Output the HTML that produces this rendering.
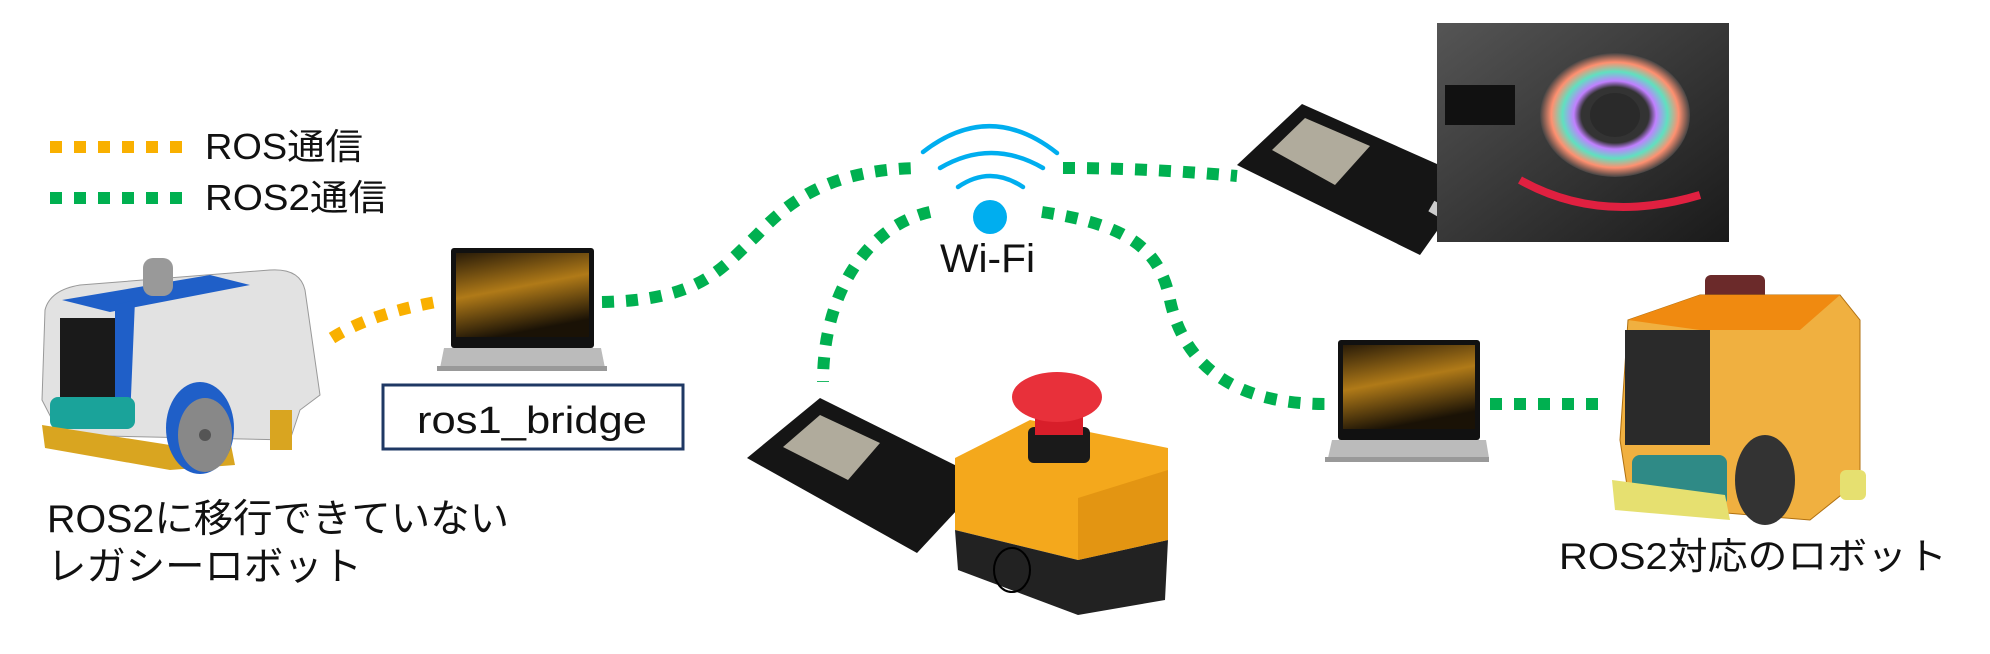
<!DOCTYPE html>
<html><head><meta charset="utf-8"><style>
html,body{margin:0;padding:0;background:#fff;}
svg{display:block;}
text{font-family:"Liberation Sans","Noto Sans CJK JP",sans-serif;fill:#111;}
</style></head><body>
<svg width="1990" height="654" viewBox="0 0 1990 654" xmlns="http://www.w3.org/2000/svg">
<defs>
<linearGradient id="scr" x1="0" y1="0" x2="0.3" y2="1"><stop offset="0" stop-color="#2a1c08"/><stop offset="0.5" stop-color="#b07a18"/><stop offset="1" stop-color="#1a1206"/></linearGradient>
<linearGradient id="led" x1="0" y1="0" x2="1" y2="1"><stop offset="0" stop-color="#555"/><stop offset="1" stop-color="#1a1a1a"/></linearGradient>
<radialGradient id="ring"><stop offset="0.45" stop-color="#333"/><stop offset="0.55" stop-color="#c080ff"/><stop offset="0.7" stop-color="#60e0c0"/><stop offset="0.85" stop-color="#ff9070"/><stop offset="1" stop-color="#444"/></radialGradient>
</defs>

<!-- legend -->
<line x1="50" y1="147" x2="186" y2="147" stroke="#f9b000" stroke-width="12" stroke-dasharray="12 12"/>
<line x1="50" y1="198" x2="186" y2="198" stroke="#00b050" stroke-width="12" stroke-dasharray="12 12"/>
<text x="205" y="159" font-size="36" textLength="158" lengthAdjust="spacingAndGlyphs">ROS通信</text>
<text x="205" y="210" font-size="36" textLength="182" lengthAdjust="spacingAndGlyphs">ROS2通信</text>

<!-- connectors -->
<g fill="none" stroke-width="12" stroke-dasharray="12 12">
<path d="M332,338 Q370,314 436,302" stroke="#f9b000"/>
<path d="M602,302 C700,300 720,270 757,235 C790,200 830,170 917,168" stroke="#00b050"/>
<path d="M930,212 C870,225 823,290 823,382" stroke="#00b050"/>
<path d="M1063,168 Q1150,168 1237,176" stroke="#00b050"/>
<path d="M1042,212 C1130,225 1160,250 1170,300 C1185,370 1240,404 1325,404" stroke="#00b050"/>
<path d="M1490,404 L1598,404" stroke="#00b050"/>
</g>

<!-- wifi -->
<g fill="none" stroke="#00aeef" stroke-width="4.5" stroke-linecap="round">
<path d="M923,152 Q990,100 1057,153"/>
<path d="M940,168 Q991,138 1043,168"/>
<path d="M958,187 Q990,165 1023,187"/>
</g>
<circle cx="990" cy="217" r="17" fill="#00aeef"/>
<text x="940" y="272" font-size="40" textLength="95" lengthAdjust="spacingAndGlyphs">Wi-Fi</text>

<!-- laptop 1 -->
<rect x="451" y="248" width="143" height="100" rx="3" fill="#111"/>
<rect x="456" y="253" width="133" height="84" fill="url(#scr)"/>
<path d="M444,348 L601,348 L605,368 L440,368 Z" fill="#bbb"/>
<rect x="437" y="366" width="170" height="5" fill="#999"/>

<!-- ros1_bridge -->
<rect x="383" y="385" width="300" height="64" fill="#fff" stroke="#1f3864" stroke-width="3"/>
<text x="417" y="433" font-size="38" textLength="230" lengthAdjust="spacingAndGlyphs">ros1_bridge</text>

<!-- left robot -->
<g>
<path d="M45,310 Q50,290 80,285 L270,270 Q300,268 305,290 L320,395 L300,410 L290,440 L60,435 L42,400 Z" fill="#e2e2e2" stroke="#999"/>
<path d="M62,300 L210,275 L250,285 L110,312 Z" fill="#1f5fc8"/>
<rect x="60" y="318" width="55" height="90" fill="#1a1a1a"/>
<path d="M115,305 L135,300 L130,420 L115,420 Z" fill="#1f5fc8"/>
<rect x="143" y="258" width="30" height="38" rx="10" fill="#999"/>
<rect x="50" y="397" width="85" height="32" rx="8" fill="#1aa39a"/>
<path d="M42,425 L170,445 L230,440 L235,465 L170,470 L45,448 Z" fill="#d9a520"/>
<ellipse cx="200" cy="428" rx="34" ry="46" fill="#1f5fc8"/>
<ellipse cx="205" cy="435" rx="27" ry="37" fill="#888"/>
<circle cx="205" cy="435" r="6" fill="#555"/>
<rect x="270" y="410" width="22" height="40" fill="#d9a520"/>
</g>
<text x="47" y="532" font-size="39" textLength="462" lengthAdjust="spacingAndGlyphs">ROS2に移行できていない</text>
<text x="47" y="580" font-size="39" textLength="315" lengthAdjust="spacingAndGlyphs">レガシーロボット</text>

<!-- ESP32 top -->
<g>
<path d="M1237,165 L1302,104 L1473,180 L1420,255 Z" fill="#151515"/>
<path d="M1272,150 L1305,118 L1370,146 L1335,185 Z" fill="#b0ab9c"/>
<rect x="1430" y="205" width="20" height="12" fill="#ccc" transform="rotate(30 1440 211)"/>
</g>
<!-- LED photo -->
<rect x="1437" y="23" width="292" height="219" fill="url(#led)"/>
<ellipse cx="1615" cy="115" rx="75" ry="62" fill="url(#ring)"/>
<ellipse cx="1615" cy="115" rx="25" ry="22" fill="#2a2a2a"/>
<path d="M1520,180 Q1600,225 1700,195" fill="none" stroke="#e02040" stroke-width="8"/>
<rect x="1445" y="85" width="70" height="40" fill="#111"/>

<!-- ESP32 bottom + button -->
<path d="M747,458 L820,398 L985,480 L917,553 Z" fill="#151515"/>
<path d="M783,447 L820,415 L880,443 L848,480 Z" fill="#b0ab9c"/>
<path d="M955,458 L1030,420 L1168,448 L1168,540 L1078,560 L955,530 Z" fill="#f4a81c"/>
<path d="M955,530 L1078,560 L1168,540 L1165,600 L1078,615 L958,570 Z" fill="#222"/>
<path d="M1078,498 L1168,470 L1168,540 L1078,560 Z" fill="#e39512"/>
<ellipse cx="1012" cy="570" rx="18" ry="22" fill="none" stroke="#000" stroke-width="2"/>
<rect x="1028" y="427" width="62" height="36" rx="6" fill="#1a1a1a"/>
<rect x="1035" y="405" width="48" height="30" fill="#d81e2a"/>
<ellipse cx="1057" cy="397" rx="45" ry="25" fill="#e8303a"/>

<!-- laptop 2 -->
<rect x="1338" y="340" width="142" height="100" rx="3" fill="#111"/>
<rect x="1343" y="345" width="132" height="84" fill="url(#scr)"/>
<path d="M1332,440 L1486,440 L1489,458 L1328,458 Z" fill="#bbb"/>
<rect x="1325" y="457" width="164" height="5" fill="#999"/>

<!-- right robot -->
<g>
<rect x="1705" y="275" width="60" height="35" rx="6" fill="#6b2a2a"/>
<path d="M1628,320 L1700,295 L1840,295 L1860,320 L1860,480 L1810,520 L1630,505 L1620,440 Z" fill="#f0b040" stroke="#b07010"/>
<path d="M1628,320 L1700,295 L1840,295 L1800,330 L1700,330 Z" fill="#f08a10"/>
<rect x="1625" y="330" width="85" height="115" fill="#2a2a2a"/>
<rect x="1632" y="455" width="95" height="52" rx="8" fill="#2f8a86"/>
<path d="M1612,480 L1725,495 L1730,520 L1615,510 Z" fill="#e6e070"/>
<ellipse cx="1765" cy="480" rx="30" ry="45" fill="#333"/>
<rect x="1840" y="470" width="26" height="30" rx="6" fill="#e6e070"/>
</g>
<text x="1559" y="569" font-size="37" textLength="388" lengthAdjust="spacingAndGlyphs">ROS2対応のロボット</text>
</svg>
</body></html>
